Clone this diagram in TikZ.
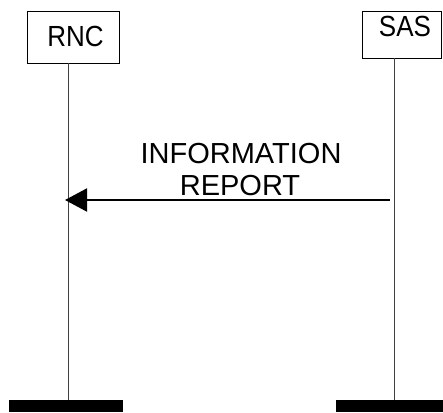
\documentclass[tikz,border=0pt]{standalone}
\usepackage{fontspec}
\setmainfont{Liberation Sans}
\usetikzlibrary{arrows.meta}
\begin{document}
\begin{tikzpicture}[x=1pt,y=-1pt,
  entity/.style={draw=black,line width=0.8pt,inner sep=0pt},
  etext/.style={inner sep=0pt,anchor=base,font=\fontsize{26}{30}\selectfont},
  lifeline/.style={draw=black!75,line width=1pt},
  endbar/.style={fill=black,inner sep=0pt,minimum height=12pt},
  msg/.style={line width=2pt,-{Triangle[length=22pt,width=23pt]}},
  lbl/.style={font=\fontsize{29}{32}\selectfont,align=center,inner sep=0pt}]
\useasboundingbox (0,0) rectangle (443,412);
\node[entity,minimum width=92pt,minimum height=52pt] (rnc) at (73,37) {};
\node[etext] (rnct) at (75.5,46) {\scalebox{1}[1.12]{RNC}};
\node[entity,minimum width=79pt,minimum height=47pt] (sas) at (401.5,34.5) {};
\node[etext] (sast) at (405,37) {\scalebox{1}[1.12]{SAS}};
\node[endbar,minimum width=114pt] (rncbar) at (66,406) {};
\node[endbar,minimum width=107pt] (sasbar) at (389.5,406) {};
\draw[lifeline] (rnc.south -| 68,0) -- (rncbar.north -| 68,0);
\draw[lifeline] (sas.south -| 394,0) -- (sasbar.north -| 394,0);
\coordinate (from) at (390,200);
\coordinate (to) at (65,200);
\draw[msg] (from) -- (to);
\node[lbl,anchor=base] (t1) at (241,163) {INFORMATION};
\node[lbl,anchor=base] (t2) at (240,195) {REPORT};
\end{tikzpicture}
\end{document}
